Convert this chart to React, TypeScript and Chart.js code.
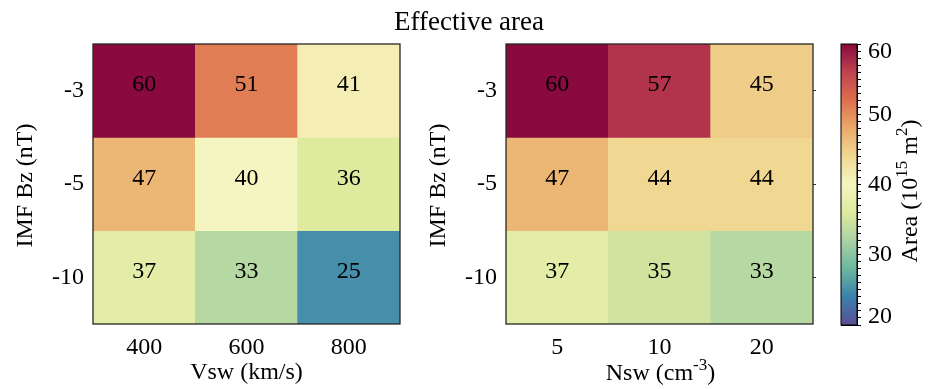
import React, { useEffect, useRef } from 'react';
import { Chart, registerables } from 'chart.js';

Chart.register(...registerables);

const SERIF = "'Liberation Serif', 'Times New Roman', Times, serif";

// ---- data ----
const bzLabels = ['-3', '-5', '-10'];
const vswLabels = ['400', '600', '800'];
const nswLabels = ['5', '10', '20'];
const areaByVsw = [
  [60, 51, 41],
  [47, 40, 36],
  [37, 33, 25],
];
const areaByNsw = [
  [60, 57, 45],
  [47, 44, 44],
  [37, 35, 33],
];
const colorbarTicks = [20, 30, 40, 50, 60];
const colorMin = 20;
const colorMax = 60;
const colorbarMinor = Array.from({ length: colorMax - colorMin + 1 }, (_, i) => colorMin + i);

// Spectral_r colormap stops (low -> high)
const spectralR = ['#5e4fa2', '#3288bd', '#66c2a5', '#abdda4', '#e6f598', '#ffffbf', '#fee08b', '#fdae61', '#f46d43', '#d53e4f', '#9e0142'];
const colorSaturation = 0.85;
const colorShade = 0.965;

function hexRgb(h: string) {
  const n = parseInt(h.slice(1), 16);
  return [(n >> 16) & 255, (n >> 8) & 255, n & 255];
}

function colormap(v: number) {
  let t = (v - colorMin) / (colorMax - colorMin);
  t = Math.max(0, Math.min(1, t));
  const p = t * (spectralR.length - 1);
  const i = Math.min(spectralR.length - 2, Math.floor(p));
  const f = p - i;
  const a = hexRgb(spectralR[i]);
  const b = hexRgb(spectralR[i + 1]);
  const c = a.map((av, k) => av + (b[k] - av) * f);
  const L = 0.299 * c[0] + 0.587 * c[1] + 0.114 * c[2];
  const d = c.map((cv) => Math.max(0, Math.min(255, Math.round((L + colorSaturation * (cv - L)) * colorShade))));
  return `rgb(${d[0]},${d[1]},${d[2]})`;
}

type Part = { text: string; sup?: boolean };

function drawRich(ctx: CanvasRenderingContext2D, parts: Part[], cx: number, baseline: number, size: number) {
  const main = `${size}px ${SERIF}`;
  const sup = `${Math.round(size * 0.7)}px ${SERIF}`;
  let total = 0;
  const widths = parts.map((p) => {
    ctx.font = p.sup ? sup : main;
    const w = ctx.measureText(p.text).width;
    total += w;
    return w;
  });
  let x = cx - total / 2;
  ctx.textAlign = 'left';
  ctx.textBaseline = 'alphabetic';
  ctx.fillStyle = '#000';
  parts.forEach((p, i) => {
    ctx.font = p.sup ? sup : main;
    ctx.fillText(p.text, x, p.sup ? baseline - size * 0.4 : baseline);
    x += widths[i];
  });
}

const framePlugin = {
  id: 'frame',
  afterDraw(chart: any) {
    const { ctx, chartArea: a } = chart;
    ctx.save();
    ctx.strokeStyle = '#262626';
    ctx.lineWidth = 1.3;
    ctx.strokeRect(a.left, a.top, a.right - a.left, a.bottom - a.top);
    ctx.restore();
  },
};

function cellTextPlugin(values: number[][]) {
  return {
    id: 'cellText',
    afterDatasetsDraw(chart: any) {
      const ctx = chart.ctx;
      ctx.save();
      ctx.font = `24px ${SERIF}`;
      ctx.fillStyle = '#000';
      ctx.textAlign = 'center';
      ctx.textBaseline = 'alphabetic';
      values.forEach((row, r) => {
        const meta = chart.getDatasetMeta(r);
        meta.data.forEach((el: any, i: number) => {
          const { x, y, base } = el.getProps(['x', 'y', 'base'], true);
          ctx.fillText(String(row[i]), x, (y + base) / 2 + 0.5);
        });
      });
      ctx.restore();
    },
  };
}

function yTitlePlugin(text: string, baselineX: number) {
  return {
    id: 'yTitle',
    afterDraw(chart: any) {
      const { ctx, chartArea: a } = chart;
      ctx.save();
      ctx.translate(baselineX, (a.top + a.bottom) / 2 + 1.5);
      ctx.rotate(-Math.PI / 2);
      drawRich(ctx, [{ text }], 0, 0, 24);
      ctx.restore();
    },
  };
}

function heatmapConfig(xLabels: string[], values: number[][], o: any): any {
  const tickFont = { size: 24, family: SERIF };
  const scales: any = {
    x: {
      type: 'category',
      offset: true,
      grid: { display: false, drawTicks: false },
      border: { display: false },
      ticks: { padding: 9, font: tickFont, color: '#000', maxRotation: 0, autoSkip: false },
      title: {
        display: !!o.xTitle,
        text: o.xTitle || '',
        color: '#000',
        font: tickFont,
        padding: { top: 0, bottom: 2 },
      },
      afterFit: (s: any) => {
        s.height = 65;
      },
    },
    y: {
      type: 'linear',
      min: 0,
      max: 3,
      reverse: true,
      afterBuildTicks: (s: any) => {
        s.ticks = bzLabels.map((_, i) => ({ value: i + 0.5 }));
      },
      ticks: { callback: (_v: any, i: number) => bzLabels[i], padding: 9, font: tickFont, color: '#000' },
      grid: { display: false, drawTicks: false },
      border: { display: false },
      title: { display: false },
      afterFit: (s: any) => {
        s.width = o.yWidth;
      },
    },
  };
  if (o.rightTicks) {
    scales.y2 = {
      type: 'linear',
      position: 'right',
      min: 0,
      max: 3,
      reverse: true,
      afterBuildTicks: (s: any) => {
        s.ticks = bzLabels.map((_, i) => ({ value: i + 0.5 }));
      },
      ticks: { display: false },
      grid: { display: true, drawOnChartArea: false, drawTicks: true, tickLength: 3, color: '#333', tickColor: '#333' },
      border: { display: false },
      afterFit: (s: any) => {
        s.width = o.rightWidth;
      },
    };
  }
  return {
    type: 'bar',
    data: {
      labels: xLabels,
      datasets: values.map((row, r) => ({
        label: bzLabels[r],
        data: row.map(() => [r, r + 1]),
        backgroundColor: row.map((v) => colormap(v)),
        borderWidth: 0,
        barPercentage: 1,
        categoryPercentage: 1,
        grouped: false,
        yAxisID: 'y',
      })),
    },
    options: {
      responsive: false,
      animation: false,
      events: [],
      layout: { padding: { top: 44, right: o.padRight, bottom: 0, left: 0 } },
      plugins: { legend: { display: false }, tooltip: { enabled: false }, title: { display: false } },
      scales,
    },
    plugins: [cellTextPlugin(values), framePlugin, yTitlePlugin('IMF Bz (nT)', o.yTitleX), ...(o.extraPlugins || [])],
  };
}

const nswTitlePlugin = {
  id: 'nswTitle',
  afterDraw(chart: any) {
    const { ctx, chartArea: a } = chart;
    ctx.save();
    drawRich(ctx, [{ text: 'Nsw (cm' }, { text: '-3', sup: true }, { text: ')' }], (a.left + a.right) / 2 + 1, 380, 24);
    ctx.restore();
  },
};

const colorbarPlugin = {
  id: 'colorbarDecor',
  afterDraw(chart: any) {
    const { ctx, chartArea: a } = chart;
    const y = chart.scales.y;
    ctx.save();
    ctx.strokeStyle = '#000';
    ctx.lineWidth = 1;
    ctx.strokeRect(a.left, a.top, a.right - a.left, a.bottom - a.top);
    ctx.font = `24px ${SERIF}`;
    ctx.fillStyle = '#000';
    ctx.textAlign = 'left';
    ctx.textBaseline = 'middle';
    colorbarTicks.forEach((v) => {
      let py = y.getPixelForValue(v);
      py = Math.max(a.top + 7.5, Math.min(a.bottom - 8, py));
      ctx.fillText(String(v), a.right + 11, py);
    });
    ctx.translate(917, 191);
    ctx.rotate(-Math.PI / 2);
    drawRich(ctx, [{ text: 'Area (10' }, { text: '15', sup: true }, { text: ' m' }, { text: '2', sup: true }, { text: ')' }], 0, 0, 24);
    ctx.restore();
    ctx.save();
    ctx.font = `27px ${SERIF}`;
    ctx.fillStyle = '#000';
    ctx.textAlign = 'center';
    ctx.textBaseline = 'alphabetic';
    ctx.fillText('Effective area', 469, 29.5);
    ctx.restore();
  },
};

const colorbarConfig: any = {
  type: 'bar',
  data: {
    labels: ['area'],
    datasets: [
      {
        data: [[colorMin, colorMax]],
        backgroundColor: (c: any) => {
          const chart = c.chart;
          const ys = chart.scales && chart.scales.y;
          if (!ys || !chart.chartArea) return colormap((colorMin + colorMax) / 2);
          const g = chart.ctx.createLinearGradient(0, ys.getPixelForValue(colorMin), 0, ys.getPixelForValue(colorMax));
          const n = 80;
          for (let k = 0; k <= n; k++) {
            g.addColorStop(k / n, colormap(colorMin + ((colorMax - colorMin) * k) / n));
          }
          return g;
        },
        borderWidth: 0,
        barPercentage: 1,
        categoryPercentage: 1,
      },
    ],
  },
  options: {
    responsive: false,
    animation: false,
    events: [],
    layout: { padding: { top: 44, right: 0, bottom: 64, left: 841 } },
    plugins: { legend: { display: false }, tooltip: { enabled: false }, title: { display: false } },
    scales: {
      x: { type: 'category', display: false, offset: true },
      y: {
        type: 'linear',
        position: 'right',
        min: colorMin,
        max: colorMax,
        z: 1,
        afterBuildTicks: (s: any) => {
          s.ticks = colorbarMinor.map((v) => ({ value: v }));
        },
        ticks: { display: false },
        grid: {
          display: true,
          drawOnChartArea: true,
          drawTicks: true,
          tickLength: 4,
          color: (c: any) => (c.tick && c.tick.value % 10 === 0 ? '#000' : 'rgba(0,0,0,0)'),
          tickColor: '#000',
          lineWidth: 1,
        },
        border: { display: true, color: '#000' },
        afterFit: (s: any) => {
          s.width = 72;
        },
      },
    },
  },
  plugins: [colorbarPlugin],
};

export default function App() {
  const lRef = useRef<HTMLCanvasElement>(null);
  const rRef = useRef<HTMLCanvasElement>(null);
  const cRef = useRef<HTMLCanvasElement>(null);

  useEffect(() => {
    const charts: Chart[] = [];
    if (lRef.current) {
      charts.push(
        new Chart(lRef.current, heatmapConfig(vswLabels, areaByVsw, { yWidth: 93, padRight: 20, yTitleX: 32, xTitle: 'Vsw (km/s)' }))
      );
    }
    if (rRef.current) {
      charts.push(
        new Chart(
          rRef.current,
          heatmapConfig(nswLabels, areaByNsw, { yWidth: 86, padRight: 0, yTitleX: 24.5, rightTicks: true, rightWidth: 27, extraPlugins: [nswTitlePlugin] })
        )
      );
    }
    if (cRef.current) charts.push(new Chart(cRef.current, colorbarConfig));
    return () => charts.forEach((c) => c.destroy());
  }, []);

  return (
    <div style={{ position: 'absolute', left: 0, top: 0, width: 929, height: 389, background: '#fff' }}>
      <canvas ref={lRef} width={420} height={389} style={{ position: 'absolute', left: 0, top: 0, width: 420, height: 389 }} />
      <canvas ref={rRef} width={420} height={389} style={{ position: 'absolute', left: 420, top: 0, width: 420, height: 389 }} />
      <canvas ref={cRef} width={929} height={389} style={{ position: 'absolute', left: 0, top: 0, width: 929, height: 389 }} />
    </div>
  );
}
